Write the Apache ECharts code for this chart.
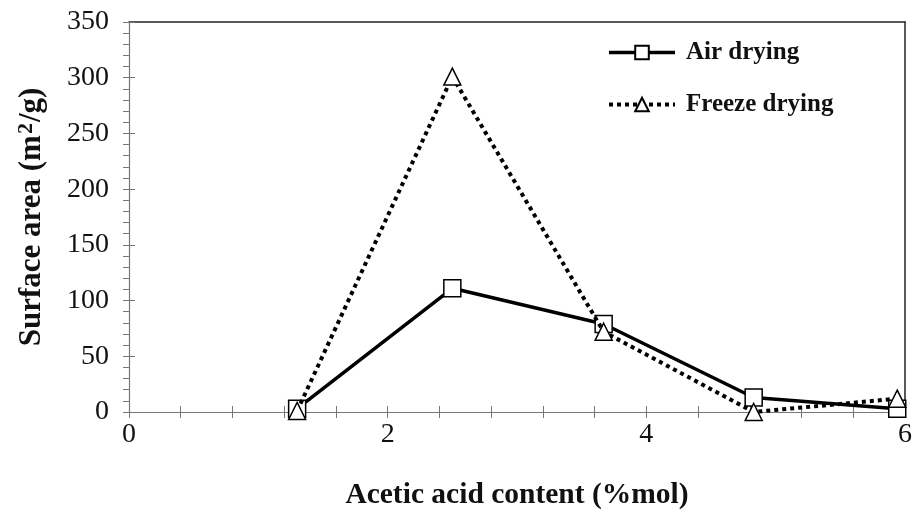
<!DOCTYPE html>
<html>
<head>
<meta charset="utf-8">
<script src="https://cdn.jsdelivr.net/npm/echarts@6/dist/echarts.min.js"></script>
<style>
  html, body { margin: 0; padding: 0; background: #fff; }
  #chart { width: 915px; height: 532px; }
</style>
</head>
<body>
<div id="chart"></div>
<script>
// Acetic acid content (%mol) of each sample
const acidContent = [1.3, 2.5, 3.67, 4.83, 5.94];
// BET surface area (m2/g) for each drying method
const airDrying = [3, 111, 79, 13, 3];
const freezeDrying = [1, 301, 72, 0, 12];
const seriesNames = ['Air drying', 'Freeze drying'];

const FONT = '"Liberation Serif", "DejaVu Serif", serif';

const chart = echarts.init(document.getElementById('chart'), null, { renderer: 'canvas' });

const pairs = (xs, ys) => xs.map((x, i) => [x, ys[i]]);

const tickStyle = { color: '#777', width: 1 };

chart.setOption({
  backgroundColor: '#fff',
  animation: false,
  grid: { left: 129, right: 9, top: 22, bottom: 120, containLabel: false },
  legend: {
    left: 602,
    top: 35,
    orient: 'vertical',
    itemGap: 27,
    itemWidth: 66,
    itemHeight: 17,
    textStyle: { fontFamily: FONT, fontSize: 25, fontWeight: 'bold', color: '#111', padding: [0, 0, 0, 6] },
    data: [
      { name: seriesNames[0], lineStyle: { width: 3.5, type: 'solid', color: '#000' } },
      { name: seriesNames[1], lineStyle: { width: 4, type: [4, 4], color: '#000' } }
    ]
  },
  xAxis: [
    {
      type: 'value', min: 0, max: 6, interval: 2,
      name: 'Acetic acid content (%mol)',
      nameLocation: 'middle', nameGap: 68,
      nameTextStyle: { fontFamily: FONT, fontSize: 29.5, fontWeight: 'bold', color: '#111' },
      axisLine: { show: true, onZero: false, lineStyle: { color: '#777', width: 1.2 } },
      axisTick: { show: true, inside: false, length: 6, lineStyle: tickStyle },
      minorTick: { show: true, splitNumber: 5, length: 6, lineStyle: tickStyle },
      axisLabel: { fontFamily: FONT, fontSize: 28, color: '#111', margin: 9 },
      splitLine: { show: false }
    },
    {
      // same scale, ticks drawn on the inner side so they cross the axis line
      type: 'value', min: 0, max: 6, interval: 2, position: 'bottom',
      axisLine: { show: false, onZero: false },
      axisTick: { show: true, inside: true, length: 6, lineStyle: tickStyle },
      minorTick: { show: true, splitNumber: 5, length: 6, lineStyle: tickStyle },
      axisLabel: { show: false },
      splitLine: { show: false }
    },
    {
      // frame along the top
      type: 'value', min: 0, max: 6, position: 'top',
      axisLine: { show: true, onZero: false, lineStyle: { color: '#222', width: 1.5 } },
      axisTick: { show: false }, axisLabel: { show: false }, splitLine: { show: false }
    }
  ],
  yAxis: [
    {
      type: 'value', min: 0, max: 350, interval: 50,
      name: 'Surface area (m{sup|2}/g)',
      nameLocation: 'middle', nameGap: 80,
      nameTextStyle: {
        fontFamily: FONT, fontSize: 31, fontWeight: 'bold', color: '#111',
        rich: { sup: { fontFamily: FONT, fontSize: 22, fontWeight: 'bold', color: '#111', verticalAlign: 'top', padding: [0, 1, 12, 1] } }
      },
      axisLine: { show: true, onZero: false, lineStyle: { color: '#777', width: 1.2 } },
      axisTick: { show: true, inside: false, length: 6, lineStyle: tickStyle },
      minorTick: { show: true, splitNumber: 5, length: 6, lineStyle: tickStyle },
      axisLabel: { fontFamily: FONT, fontSize: 28, color: '#111', margin: 20 },
      splitLine: { show: false }
    },
    {
      // inner half of the major ticks
      type: 'value', min: 0, max: 350, interval: 50, position: 'left',
      axisLine: { show: false, onZero: false },
      axisTick: { show: true, inside: true, length: 6, lineStyle: tickStyle },
      axisLabel: { show: false }, splitLine: { show: false }
    },
    {
      // frame along the right side
      type: 'value', min: 0, max: 350, position: 'right',
      axisLine: { show: true, onZero: false, lineStyle: { color: '#222', width: 1.5 } },
      axisTick: { show: false }, axisLabel: { show: false }, splitLine: { show: false }
    }
  ],
  series: [
    {
      name: seriesNames[0],
      type: 'line',
      data: pairs(acidContent, airDrying),
      symbol: 'rect',
      symbolSize: 17,
      showAllSymbol: true,
      lineStyle: { color: '#000', width: 3.5, type: 'solid' },
      itemStyle: { color: '#fff', borderColor: '#000', borderWidth: 1.5 },
      z: 2
    },
    {
      name: seriesNames[1],
      type: 'line',
      data: pairs(acidContent, freezeDrying),
      symbol: 'triangle',
      symbolSize: 17,
      showAllSymbol: true,
      lineStyle: { color: '#000', width: 4, type: [4, 4] },
      itemStyle: { color: '#fff', borderColor: '#000', borderWidth: 1.5 },
      z: 3
    }
  ]
});
</script>
</body>
</html>
